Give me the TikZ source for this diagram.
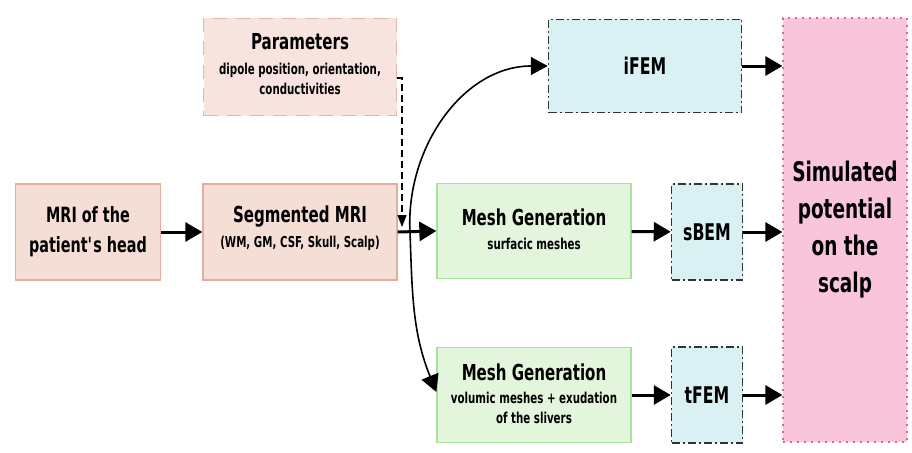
\documentclass[tikz,border=0pt]{standalone}
\usepackage{fontspec}
\setmainfont[FakeStretch=0.76]{DejaVu Sans Condensed}
\usetikzlibrary{arrows.meta}
\definecolor{salfill}{HTML}{F5DED6}
\definecolor{salline}{HTML}{E8AC9C}
\definecolor{parfill}{HTML}{F7E4DE}
\definecolor{grnfill}{HTML}{E3F6DD}
\definecolor{grnline}{HTML}{A9E39A}
\definecolor{cyfill}{HTML}{D9F1F2}
\definecolor{dashgray}{HTML}{333333}
\definecolor{pkfill}{HTML}{F8C5DA}
\definecolor{pkline}{HTML}{E0628F}
\tikzset{
  box/.style={rectangle, align=center, inner sep=2pt, line width=1.3pt},
  mri/.style={box, fill=salfill, draw=salline},
  par/.style={box, fill=parfill, draw=salline!90, line width=1.5pt, dash pattern=on 14pt off 9pt},
  mesh/.style={box, fill=grnfill, draw=grnline},
  solv/.style={box, fill=cyfill, draw=dashgray, line width=1.5pt, dash pattern=on 8pt off 3pt on 2pt off 3pt},
  sim/.style={box, fill=pkfill, draw=pkline, line width=1.2pt, dash pattern=on 2pt off 5pt},
  arr/.style={line width=3pt, -{Triangle[length=17pt,width=19pt]}},
  carr/.style={line width=1.6pt, -{Triangle[length=17pt,width=18pt]}},
  darr/.style={line width=1.3pt, dash pattern=on 7pt off 4pt, -{Triangle[length=12pt,width=9pt]}},
  ttl/.style={font=\fontsize{22}{27}\selectfont\bfseries},
  sub/.style={font=\fontsize{15}{20}\selectfont\bfseries, align=center},
  big/.style={font=\fontsize{23}{27}\selectfont\bfseries},
}
\begin{document}
\begin{tikzpicture}[x=1pt,y=-1pt]
\useasboundingbox (0,0) rectangle (912,452);
\node[mri, minimum width=145pt, minimum height=96pt, font=\fontsize{21}{30}\selectfont\bfseries] (mri) at (88,232) {MRI of the\\patient\textquotesingle s head};
\node[mri, minimum width=194pt, minimum height=96pt] (seg) at (300,232) {};
\node[ttl] (segt) at (300,217) {Segmented MRI};
\node[sub] (segs) at (300,243) {(WM, GM, CSF, Skull, Scalp)};
\node[par, minimum width=193pt, minimum height=97pt] (par) at (300,67) {};
\node[ttl] (part) at (300,42) {Parameters};
\node[sub] (pars) at (300,79) {dipole position, orientation,\\conductivities};
\node[mesh, minimum width=194pt, minimum height=95pt] (m1) at (534,231) {};
\node[ttl] (m1t) at (534,217) {Mesh Generation};
\node[sub] (m1s) at (534,244) {surfacic meshes};
\node[mesh, minimum width=194pt, minimum height=95pt] (m2) at (534,395) {};
\node[ttl] (m2t) at (534,372) {Mesh Generation};
\node[sub] (m2s) at (534,408) {volumic meshes + exudation\\of the slivers};
\node[solv, minimum width=193pt, minimum height=93pt, big] (ifem) at (645,66) {iFEM};
\node[solv, minimum width=71pt, minimum height=96pt, big] (sbem) at (707,232) {sBEM};
\node[solv, minimum width=71pt, minimum height=96pt, big] (tfem) at (707,395) {tFEM};
\node[sim, minimum width=124pt, minimum height=424pt, font=\fontsize{27}{37}\selectfont\bfseries] (sim) at (845,230) {Simulated\\potential\\on the\\scalp};
\coordinate (br) at (410,232);
\coordinate (dtop) at (402,78);
\coordinate (dend) at (402,227);
\draw[arr] (mri) -- (seg);
\draw[arr] (seg.east) -- (m1.west);
\draw[darr] (par.east |- dtop) -- (dtop) -- (dend);
\draw[carr] (br) to[out=93,in=180] (ifem.west);
\draw[carr] (br) to[out=-88,in=112] ([yshift=3pt]m2.west);
\draw[arr] (m1) -- (sbem);
\draw[arr] (m2) -- (tfem);
\draw[arr] (ifem.east) -- (ifem.east -| sim.west);
\draw[arr] (sbem.east) -- (sbem.east -| sim.west);
\draw[arr] (tfem.east) -- (tfem.east -| sim.west);
\end{tikzpicture}
\end{document}
